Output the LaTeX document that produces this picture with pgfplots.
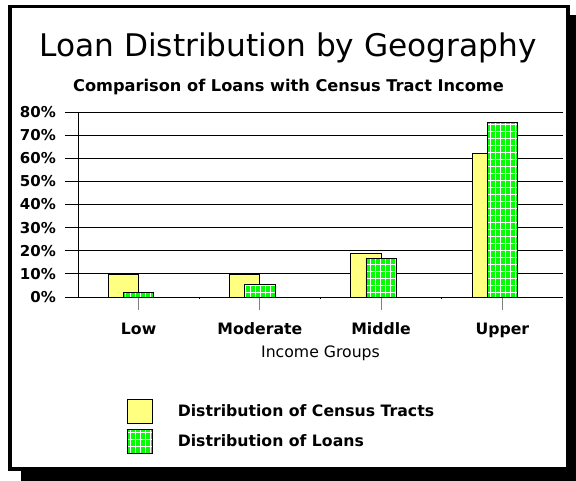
\documentclass[border=0pt]{standalone}
\usepackage{fontspec}
\setmainfont{DejaVu Sans}
\usepackage{pgfplots}
\pgfplotsset{compat=1.18}
\usetikzlibrary{patterns}
\definecolor{lyellow}{RGB}{255,255,128}
\definecolor{bgreen}{RGB}{0,255,0}
\pgfdeclarepatternformonly{greengrid}{\pgfqpoint{-1pt}{-1pt}}{\pgfqpoint{6pt}{8pt}}{\pgfqpoint{5pt}{7pt}}{%
  \pgfsetlinewidth{0.9pt}%
  \pgfpathmoveto{\pgfqpoint{0pt}{0pt}}\pgfpathlineto{\pgfqpoint{0pt}{7pt}}%
  \pgfpathmoveto{\pgfqpoint{0pt}{0pt}}\pgfpathlineto{\pgfqpoint{5pt}{0pt}}%
  \pgfusepath{stroke}}
\tikzset{loanbar/.style={preaction={fill=bgreen}, pattern=greengrid, pattern color=white}}
\begin{document}
\begin{tikzpicture}
\useasboundingbox (0pt,0pt) rectangle (576pt,481pt);
% frame with shadow
\fill[black] (21pt,0pt) rectangle (576pt,466pt);
\filldraw[fill=white,draw=black,line width=3.5pt] (10pt,12pt) rectangle (568pt,474.5pt);
% titles
\node[anchor=base,inner sep=0pt,font=\fontsize{31.2}{34}\selectfont] at (288pt,424.3pt) {Loan Distribution by Geography};
\node[anchor=base,inner sep=0pt,font=\fontsize{16.2}{18}\selectfont\bfseries] at (288.5pt,389.3pt) {Comparison of Loans with Census Tract Income};
\begin{axis}[
  at={(78pt,184pt)}, anchor=south west,
  scale only axis, width=485pt, height=185pt,
  xmin=0, xmax=4, ymin=0, ymax=80,
  axis lines*=left,
  axis line style={black,line width=0.8pt},
  ybar, bar width=0.25,
  tick align=outside,
  ytick={0,10,...,80},
  yticklabels={0\%,10\%,20\%,30\%,40\%,50\%,60\%,70\%,80\%},
  ymajorgrids,
  grid style={black,line width=0.8pt},
  major tick length=13pt,
  ytick style={black,line width=0.8pt},
  yticklabel style={font=\fontsize{15}{17}\selectfont\bfseries,anchor=east,inner sep=0pt,xshift=-9pt},
  xtick={0.5,1.5,2.5,3.5},
  xticklabels={Low,Moderate,Middle,Upper},
  xtick style={gray,line width=0.8pt},
  minor xtick={1,2,3},
  minor tick length=2pt,
  minor x tick style={black,line width=0.8pt},
  xticklabel style={font=\fontsize{15.7}{17}\selectfont\bfseries,anchor=base,inner sep=0pt,yshift=-24.5pt},
  /pgf/number format/assume math mode=true,
  legend image code/.code={\draw[#1] (0pt,-12pt) rectangle (25pt,12pt);},
  legend style={at={(0.101,-0.551)},anchor=north west,draw=none,fill=none,
    font=\fontsize{15.7}{17}\selectfont\bfseries,
    row sep=5pt, inner sep=0pt, outer sep=0pt,
    nodes={inner sep=0pt, text height=12pt, text depth=12pt}},
  legend cell align=left,
  legend columns=1,
]
\addplot[ybar, bar shift=0pt, fill=lyellow, draw=black, line width=0.8pt]
  coordinates {(0.375,9.6) (1.375,9.6) (2.375,18.9) (3.375,62.1)};
\addlegendentry{\hspace{25pt}\raisebox{-5pt}{Distribution of Census Tracts}}
\addplot[ybar, bar shift=0pt, draw=black, line width=0.8pt, loanbar]
  coordinates {(0.5,2.0) (1.5,5.6) (2.5,16.7) (3.5,75.5)};
\addlegendentry{\hspace{25pt}\raisebox{-5pt}{Distribution of Loans}}
\end{axis}
\node[anchor=base,inner sep=0pt,font=\fontsize{15.7}{17}\selectfont] at (320.5pt,123pt) {Income Groups};
\end{tikzpicture}
\end{document}
